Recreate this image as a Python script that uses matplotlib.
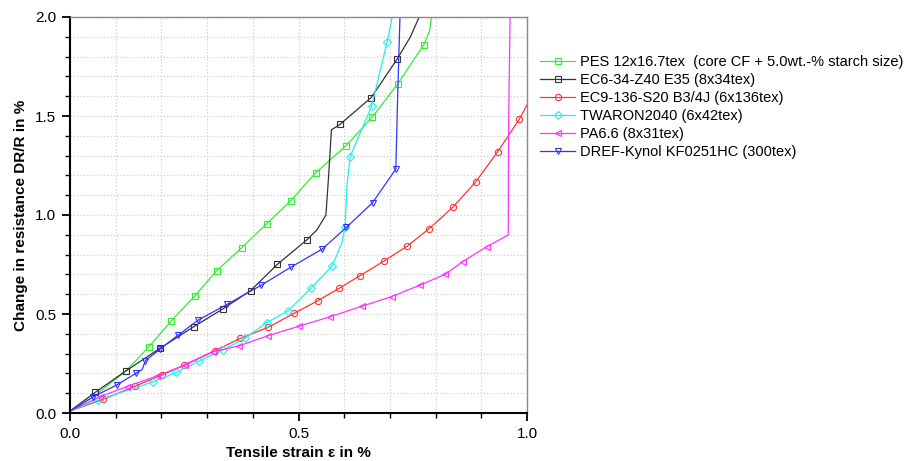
import matplotlib
matplotlib.use("Agg")
import matplotlib.pyplot as plt
from matplotlib.ticker import MultipleLocator

plt.rcParams['font.family'] = ['Liberation Sans', 'DejaVu Sans']

# ---- data ----
pes_x = [0, 0.05, 0.122, 0.173, 0.221, 0.274, 0.321, 0.376, 0.430, 0.483, 0.538, 0.603, 0.661, 0.717, 0.774, 0.787, 0.791]
pes_y = [0.01, 0.08, 0.212, 0.335, 0.464, 0.593, 0.719, 0.835, 0.955, 1.072, 1.214, 1.348, 1.493, 1.662, 1.859, 1.93, 2.0]
pes_mk = [2, 3, 4, 5, 6, 7, 8, 9, 10, 11, 12, 13, 14]

ec6_x = [0, 0.055, 0.122, 0.197, 0.271, 0.334, 0.395, 0.454, 0.518, 0.540, 0.560, 0.566, 0.572, 0.591, 0.659, 0.716, 0.745, 0.764]
ec6_y = [0.01, 0.104, 0.212, 0.327, 0.436, 0.525, 0.618, 0.751, 0.874, 0.924, 1.0, 1.2, 1.43, 1.458, 1.593, 1.788, 1.90, 2.0]
ec6_mk = [1, 2, 3, 4, 5, 6, 7, 8, 13, 14, 15]

ec9_x = [0, 0.073, 0.142, 0.201, 0.250, 0.317, 0.373, 0.434, 0.490, 0.542, 0.589, 0.635, 0.686, 0.738, 0.786, 0.839, 0.888, 0.936, 0.983, 1.0]
ec9_y = [0.01, 0.069, 0.135, 0.192, 0.242, 0.315, 0.377, 0.433, 0.503, 0.567, 0.630, 0.694, 0.766, 0.843, 0.931, 1.042, 1.168, 1.320, 1.483, 1.556]
ec9_mk = list(range(1, 19))

tw_x = [0, 0.062, 0.12, 0.182, 0.233, 0.283, 0.335, 0.383, 0.430, 0.478, 0.527, 0.574, 0.595, 0.602, 0.606, 0.613, 0.660, 0.694, 0.705]
tw_y = [0.01, 0.066, 0.11, 0.158, 0.205, 0.263, 0.318, 0.377, 0.456, 0.517, 0.630, 0.744, 0.86, 0.94, 1.15, 1.295, 1.55, 1.875, 2.0]
tw_mk = [1, 3, 4, 5, 6, 7, 8, 9, 10, 11, 13, 15, 16, 17]

pa_x = [0, 0.066, 0.124, 0.190, 0.252, 0.314, 0.370, 0.434, 0.502, 0.569, 0.640, 0.704, 0.766, 0.821, 0.859, 0.912, 0.959, 0.960, 0.963]
pa_y = [0.01, 0.082, 0.133, 0.187, 0.242, 0.31, 0.339, 0.391, 0.439, 0.486, 0.540, 0.588, 0.646, 0.70, 0.764, 0.84, 0.899, 1.5, 2.0]
pa_mk = list(range(1, 16))

dref_x = [0, 0.051, 0.102, 0.144, 0.158, 0.165, 0.197, 0.237, 0.281, 0.344, 0.419, 0.483, 0.552, 0.605, 0.662, 0.713, 0.717, 0.722]
dref_y = [0.01, 0.082, 0.141, 0.2, 0.22, 0.264, 0.323, 0.394, 0.470, 0.549, 0.646, 0.736, 0.828, 0.938, 1.062, 1.232, 1.6, 2.0]
dref_mk = [1, 2, 3, 5, 6, 7, 8, 9, 10, 11, 12, 13, 14, 15]

labels = [
    "PES 12x16.7tex  (core CF + 5.0wt.-% starch size)",
    "EC6-34-Z40 E35 (8x34tex)",
    "EC9-136-S20 B3/4J (6x136tex)",
    "TWARON2040 (6x42tex)",
    "PA6.6 (8x31tex)",
    "DREF-Kynol KF0251HC (300tex)",
]

series = [
    (pes_x, pes_y, pes_mk, '#33ee33', 's', 4.2),
    (ec6_x, ec6_y, ec6_mk, '#333333', 's', 4.2),
    (ec9_x, ec9_y, ec9_mk, '#ff3333', 'o', 4.5),
    (tw_x, tw_y, tw_mk, '#22eeee', 'D', 4.0),
    (pa_x, pa_y, pa_mk, '#ff33ff', '<', 5.0),
    (dref_x, dref_y, dref_mk, '#3333ff', 'v', 5.0),
]

fig = plt.figure(figsize=(9.09, 4.61), dpi=100)
ax = fig.add_axes([70 / 909, 1 - 413 / 461, 457 / 909, 396 / 461])

handles = []
for (x, y, mk, c, m, ms), lab in zip(series, labels):
    h, = ax.plot(x, y, color=c, lw=0.9, marker=m, markevery=mk, ms=ms,
                 mfc='none', mec=c, mew=0.8, label=lab)
    handles.append(h)

ax.set_xlim(0, 1.0)
ax.set_ylim(0, 2.0)
ax.xaxis.set_major_locator(MultipleLocator(0.5))
ax.xaxis.set_minor_locator(MultipleLocator(0.1))
ax.yaxis.set_major_locator(MultipleLocator(0.5))
ax.yaxis.set_minor_locator(MultipleLocator(0.1))
ax.xaxis.set_major_formatter(matplotlib.ticker.FormatStrFormatter('%.1f'))
ax.yaxis.set_major_formatter(matplotlib.ticker.FormatStrFormatter('%.1f'))
ax.grid(True, which='both', color='#c8c8c8', ls=(0, (1, 2)), lw=0.8)
ax.set_axisbelow(True)

for s in ['left', 'bottom']:
    ax.spines[s].set_color('black')
    ax.spines[s].set_linewidth(1.5)
for s in ['top', 'right']:
    ax.spines[s].set_color('#888888')
    ax.spines[s].set_linewidth(1.0)

ax.tick_params(which='major', direction='out', length=6, width=1.3, labelsize=11, pad=4)
ax.tick_params(which='minor', direction='out', length=3.5, width=1.0)
ax.tick_params(top=False, right=False, which='both')

ax.set_xlabel("Tensile strain ε in %", fontsize=11, fontweight='bold', labelpad=4)
ax.set_ylabel("Change in resistance DR/R in %", fontsize=11, fontweight='bold', labelpad=5)

fig.legend(handles=handles, labels=labels, loc='upper left',
           bbox_to_anchor=(540 / 909, 1 - 55 / 461), frameon=False,
           fontsize=10.5, handlelength=2.4, handletextpad=0.35,
           labelspacing=0.28, borderaxespad=0, borderpad=0)

fig.savefig("out.png", dpi=100)
